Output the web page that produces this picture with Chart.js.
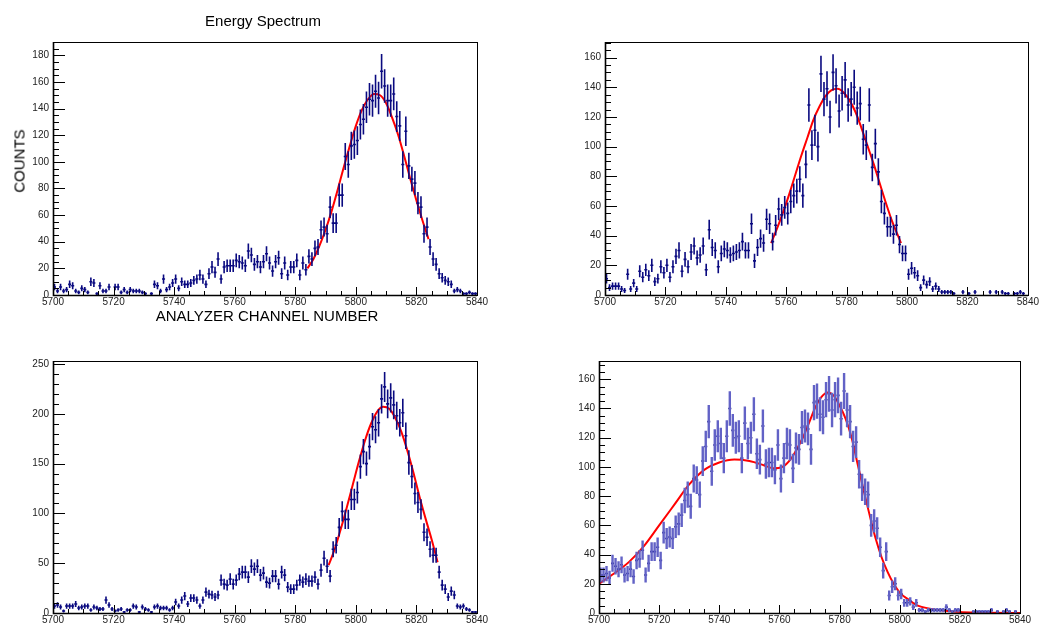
<!DOCTYPE html>
<html><head><meta charset="utf-8">
<script src="https://cdn.jsdelivr.net/npm/chart.js@4.4.1/dist/chart.umd.min.js"></script>
<style>
html,body{margin:0;padding:0;background:#fff;}
#wrap{position:relative;width:1040px;height:628px;overflow:hidden;font-family:"Liberation Sans",Arial,sans-serif;}
canvas{position:absolute;}
.t{position:absolute;color:#000;font-weight:normal;white-space:nowrap;font-size:15px;line-height:15px;}
</style></head><body>
<div id="wrap">
<canvas id="c1" width="520" height="312" style="left:0;top:0"></canvas>
<canvas id="c2" width="500" height="312" style="left:540px;top:0"></canvas>
<canvas id="c3" width="520" height="300" style="left:0;top:328px"></canvas>
<canvas id="c4" width="500" height="300" style="left:540px;top:328px"></canvas>
<div class="t" style="left:263px;top:20px;transform:translate(-50%,-50%)">Energy Spectrum</div>
<div class="t" style="left:19px;top:161px;transform:translate(-50%,-50%) rotate(-90deg)">COUNTS</div>
<div class="t" style="left:267px;top:315px;transform:translate(-50%,-50%)">ANALYZER CHANNEL NUMBER</div>
</div>
<script>
const channelStart = 5700;

const counts1 = [6,3,6,3,4,8,7,3,2,5, 4,2,10,9,1,7,3,3,6,0, 6,6,2,4,2,4,3,3,3,2, 1,0,1,8,7,3,12,4,6,9,
 12,5,10,8,8,9,11,12,15,12, 8,16,21,17,27,12,21,22,22,22, 26,25,24,22,33,30,23,25,21,25,
 31,24,18,25,28,16,24,15,21,21, 26,15,24,19,29,27,35,36,49,51, 46,66,54,54,75,75,104,98,112,113,
 116,128,132,141,147,146,153,148,168,157, 146,146,151,134,127,98,123,97,87,84,
 69,66,46,51,36,27,23,16,13,11, 10,8,3,4,3,1,1,2,1,1];

const counts2 = [11,5,6,6,6,4,3,14,4,8, 4,16,12,17,13,20,9,11,19,15, 20,12,19,26,30,16,24,19,29,33,
 25,27,33,17,44,32,30,19,28,31, 30,27,28,29,30,36,30,30,48,23, 32,38,35,51,48,36,47,58,54,59,
 55,63,67,70,78,67,88,128,101,111, 100,149,132,139,120,150,141,124,136,145,
 128,132,140,126,129,105,101,128,86,102, 83,63,55,46,46,41,47,34,28,28,
 14,18,15,13,5,10,7,9,4,6, 4,2,2,2,2,1,0,0,2,0, 1,0,2,0,0,0,0,2,0,2, 0,2,1,1,0,1,1,2,1,0];

const counts3 = [7,8,6,2,7,7,7,9,5,6, 7,7,3,6,5,4,4,13,8,4, 2,3,4,1,3,3,7,6,1,6, 4,3,1,6,7,5,5,5,3,5,
 11,7,13,17,9,15,15,13,7,13, 21,19,18,16,18,33,29,28,34,29, 33,39,41,41,36,47,44,47,38,40,
 31,30,37,37,29,41,38,26,24,24, 28,33,31,34,32,32,36,29,43,55, 47,37,64,68,86,102,94,94,114,114,
 121,147,162,150,167,187,184,191,215,227, 210,216,209,198,191,201,178,151,137,120,
 111,104,81,76,64,58,58,41,28,24, 16,22,18,7,6,7,4,3,1,1];

const counts4 = [26,26,27,24,34,32,30,33,26,27, 30,25,36,37,43,26,34,42,42,45, 36,55,51,52,51,59,61,67,77,81,
 73,92,91,81,104,114,131,97,115,121, 116,106,121,140,125,120,121,106,130,116,
 120,136,109,105,128,102,103,103,98,115, 92,106,116,115,99,113,112,127,128,126,
 112,144,145,136,134,146,150,139,146,149, 133,152,139,131,114,117,95,86,83,81,
 60,63,58,45,29,42,12,18,20,12, 13,7,7,8,4,7,2,2,1,2, 2,2,2,2,2,4,2,1,2,2,
 0,0,0,0,1,1,1,1,1,1, 2,0,1,0,1,2,1,0,1,0];

const fit1X = [5784,5786,5788,5790,5792,5794,5796,5798,5800,5802,5804,5806,5808,5810,5812,5814,5816,5818,5820,5822,5824];
const fit1Y = [20,27,37,49,63,79,96,112,127,139,147,151,150,144,133,120,104,87,71,56,42];

const fit2X = [5755,5757,5759,5761,5763,5765,5767,5769,5771,5773,5775,5777,5779,5781,5783,5785,5787,5789,5791,5793,5795,5797,5798];
const fit2Y = [35,45,56,68,81,94,106,118,127,134,138,139,136.5,131,123,112,100,88,75,62,50,40,35];

const fit3X = [5791,5793,5795,5797,5799,5801,5803,5805,5807,5809,5811,5813,5815,5817,5819,5821,5823,5825,5827];
const fit3Y = [48,64,84,106,129,152,173,190,202,207,205,196,182,163,141,117,95,74,51];

const fit4X = [5700,5705,5710,5715,5720,5725,5730,5735,5740,5745,5750,5755,5758,5761,5764,5766,5768,5770,5772,5774,5776,5778,5780,5782,5784,5786,5788,5790,5792,5794,5796,5798,5800,5803,5806,5810,5815,5820,5825,5830,5840];
const fit4Y = [20,27,35,46,60,74,88,98,103,105,104,101,99,100,106,113,121,131,141,148,151,149,142,133,120,102,84,67,51,38,28,20,14,9,5,3,1.5,0.7,0.3,0.1,0];

const xTicks = [5700,5720,5740,5760,5780,5800,5820,5840];
const yTicks1 = [0,20,40,60,80,100,120,140,160,180];
const yTicks2 = [0,20,40,60,80,100,120,140,160];
const yTicks3 = [0,50,100,150,200,250];
const yTicks4 = [0,20,40,60,80,100,120,140,160];

const NAVY = '#0a0a80';
const FONT = '"Liberation Sans", Arial, sans-serif';

const frameTicks = {
  id: 'frameTicks',
  afterDraw(chart, args, o) {
    const {ctx, chartArea: a, scales: {x, y}} = chart;
    ctx.save();
    ctx.strokeStyle = '#000';
    ctx.lineWidth = 1;
    ctx.strokeRect(Math.round(a.left) + 0.5, Math.round(a.top) + 0.5, Math.round(a.right - a.left), Math.round(a.bottom - a.top));
    ctx.beginPath();
    for (let v = 0; v <= y.max + 1e-9; v += o.yMinor) {
      const p = Math.round(y.getPixelForValue(v)) + 0.5;
      const major = Math.abs(v / o.yMajor - Math.round(v / o.yMajor)) < 1e-6;
      ctx.moveTo(a.left, p);
      ctx.lineTo(a.left + (major ? 12 : 6), p);
    }
    for (let v = x.min; v <= x.max + 1e-9; v += o.xMinor) {
      const p = Math.round(x.getPixelForValue(v)) + 0.5;
      const major = (v - x.min) % o.xMajor === 0;
      ctx.moveTo(p, a.bottom);
      ctx.lineTo(p, a.bottom - (major ? 8 : 4));
    }
    ctx.stroke();
    ctx.lineWidth = 1.6;
    ctx.beginPath();
    ctx.moveTo(a.left + 0.5, a.top);
    ctx.lineTo(a.left + 0.5, a.bottom + 0.5);
    ctx.lineTo(a.right, a.bottom + 0.5);
    ctx.stroke();
    ctx.restore();
  }
};

function errData(counts) {
  const v = [], h = [];
  counts.forEach((c, i) => {
    if (c <= 0) return;
    const x = channelStart + i + 0.5;
    const e = Math.sqrt(c);
    v.push({x, y: c - e}, {x, y: c + e}, {x, y: null});
    h.push({x: x - 0.5, y: c}, {x: x + 0.5, y: c}, {x, y: null});
  });
  return {v, h};
}

function makeChart(id, counts, fitX, fitY, yTicks, yMax, yMajor, yMinor, pad, xH, yW, errColor, errW) {
  const d = errData(counts);
  const fit = fitX.map((x, i) => ({x, y: fitY[i]}));
  new Chart(document.getElementById(id), {
    type: 'line',
    data: {
      datasets: [
        {data: d.v, borderColor: errColor, borderWidth: errW, pointRadius: 0, spanGaps: false, borderCapStyle: 'butt'},
        {data: d.h, borderColor: NAVY, borderWidth: 1.6, pointRadius: 0, spanGaps: false, borderCapStyle: 'butt'},
        {data: fit, borderColor: '#ff0000', borderWidth: 2, pointRadius: 0, cubicInterpolationMode: 'monotone'}
      ]
    },
    options: {
      responsive: false, animation: false, devicePixelRatio: 1, events: [],
      layout: {padding: pad},
      plugins: {legend: {display: false}, tooltip: {enabled: false},
        frameTicks: {yMajor, yMinor, xMajor: 20, xMinor: 5}},
      scales: {
        x: {type: 'linear', min: 5700, max: 5840,
          afterBuildTicks: s => { s.ticks = xTicks.map(v => ({value: v})); },
          afterFit: s => { s.height = xH; },
          grid: {display: false, drawTicks: false}, border: {display: false},
          ticks: {font: {size: 10, family: FONT}, color: '#222', padding: 1, maxRotation: 0, callback: v => String(v)}},
        y: {type: 'linear', min: 0, max: yMax,
          afterBuildTicks: s => { s.ticks = yTicks.map(v => ({value: v})); },
          afterFit: s => { s.width = yW; },
          grid: {display: false, drawTicks: false}, border: {display: false},
          ticks: {font: {size: 10, family: FONT}, color: '#222', padding: 4, callback: v => String(v)}}
      }
    },
    plugins: [frameTicks]
  });
}

makeChart('c1', counts1, fit1X, fit1Y, yTicks1, 190, 20, 5, {left: 0, top: 42, right: 43, bottom: 0}, 17, 53, NAVY, 1.6);
makeChart('c2', counts2, fit2X, fit2Y, yTicks2, 170.5, 20, 5, {left: 0, top: 42, right: 12, bottom: 0}, 17, 65, NAVY, 1.6);
makeChart('c3', counts3, fit3X, fit3Y, yTicks3, 253, 50, 10, {left: 0, top: 33, right: 43, bottom: 0}, 15, 53, NAVY, 1.6);
makeChart('c4', counts4, fit4X, fit4Y, yTicks4, 172.5, 20, 5, {left: 0, top: 33, right: 20, bottom: 0}, 15, 59, '#6262c6', 2.4);
</script>
</body></html>
